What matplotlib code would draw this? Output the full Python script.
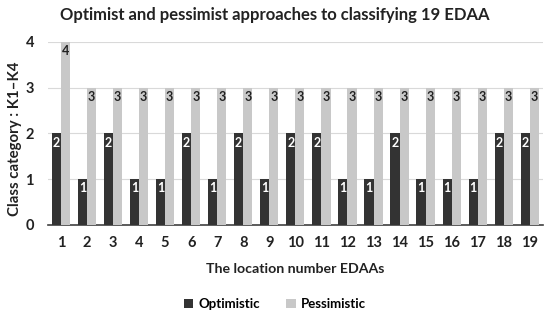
import matplotlib
matplotlib.use("Agg")
import matplotlib.pyplot as plt
import numpy as np

categories = [str(i) for i in range(1, 20)]
optimistic = [2, 1, 2, 1, 1, 2, 1, 2, 1, 2, 2, 1, 1, 2, 1, 1, 1, 2, 2]
pessimistic = [4, 3, 3, 3, 3, 3, 3, 3, 3, 3, 3, 3, 3, 3, 3, 3, 3, 3, 3]

plt.rcParams['font.family'] = ['Lato', 'DejaVu Sans']
fig = plt.figure(figsize=(5.5, 3.2), dpi=100)
ax = fig.add_axes([0.087, 0.297, 0.90, 0.572])

x = np.arange(len(categories))
w = 0.35
dark = '#333333'
light = '#c8c8c8'
b1 = ax.bar(x - w/2, optimistic, w, color=dark, label='Optimistic', zorder=3)
b2 = ax.bar(x + w/2, pessimistic, w, color=light, label='Pessimistic', zorder=3)

for rect, v in zip(b1, optimistic):
    ax.text(rect.get_x() + rect.get_width()/2, v - 0.2, str(v), ha='center', va='center',
            color='white', fontsize=9, fontweight='bold', zorder=4)
for rect, v in zip(b2, pessimistic):
    ax.text(rect.get_x() + rect.get_width()/2, v - 0.2, str(v), ha='center', va='center',
            color='#222222', fontsize=9, fontweight='bold', zorder=4)

ax.set_xlim(-0.5, len(categories) - 0.5)
ax.set_ylim(0, 4)
ax.set_yticks([0, 1, 2, 3, 4])
ax.set_xticks(x)
ax.set_xticklabels(categories)
ax.yaxis.grid(True, color='#d9d9d9', linewidth=0.8, zorder=0)
for s in ['top', 'right', 'left']:
    ax.spines[s].set_visible(False)
ax.spines['bottom'].set_color('#404040')
ax.spines['bottom'].set_linewidth(1.2)
ax.tick_params(axis='both', length=0, labelsize=10.5, colors='#222222')
ax.tick_params(axis='x', pad=8)
ax.tick_params(axis='y', pad=10)
for lbl in ax.get_xticklabels() + ax.get_yticklabels():
    lbl.set_fontweight('bold')

fig.text(0.5, 1 - 15/320, 'Optimist and pessimist approaches to classifying 19 EDAA',
         ha='center', va='center', fontsize=12.0, fontweight='bold', color='#222222')
ax.set_xlabel('The location number EDAAs', fontsize=10.2, fontweight='bold', color='#222222', labelpad=9)
ax.set_ylabel('Class category : K1–K4', fontsize=10.8, fontweight='bold', color='#222222')
ax.yaxis.set_label_coords(-0.052, 0.47)

leg = fig.legend(loc='center', bbox_to_anchor=(0.5, 0.05), ncol=2, frameon=False,
                 fontsize=9.5, handlelength=0.7, handleheight=0.7, columnspacing=2.0, handletextpad=0.4)
for t in leg.get_texts():
    t.set_fontweight('bold')

fig.savefig('out.png', dpi=100)
